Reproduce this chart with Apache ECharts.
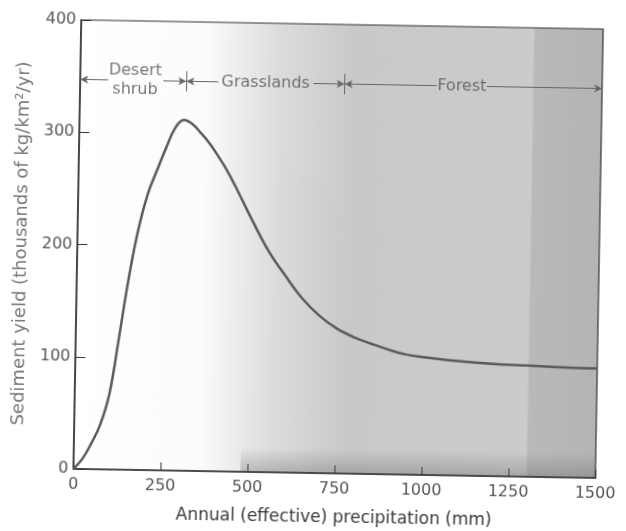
<!DOCTYPE html>
<html>
<head>
<meta charset="utf-8">
<script src="https://cdn.jsdelivr.net/npm/echarts@6/dist/echarts.min.js"></script>
<style>
  html, body { margin: 0; padding: 0; background: #fff; }
  /* the scanned figure is slightly tilted */
  #main { width: 626px; height: 531px; transform: rotate(1deg); }
</style>
</head>
<body>
<div id="main"></div>
<script>
// precipitation (mm) and sediment yield (thousands of kg/km2/yr)
const precip = [0, 25, 50, 75, 100, 125, 150, 175, 200, 225, 250, 275, 300, 325, 350, 375, 400, 425, 450, 500, 550, 600, 650, 700, 750, 800, 850, 900, 950, 1000, 1100, 1200, 1300, 1400, 1500];
const yieldK = [0, 9, 23, 40, 68, 119, 172, 215, 246, 267, 287, 305, 312.5, 309, 301, 292, 281, 269, 255, 225, 197, 175, 155, 140, 129, 121.5, 116, 111, 107, 105, 102, 100, 99, 98, 97.5];

// vegetation zones along the top of the plot
const zoneBounds = [0, 305, 760, 1500];
const zoneNames = ['Desert\nshrub', 'Grasslands', 'Forest'];
const zoneLabelX = [158, 533, 1097];
const zoneTextEdges = [[81, 239], [397, 670], [1025, 1169]];
const zoneY = 347;

const font = 'DejaVu Sans';
const grey = '#555';

let myChart = echarts.init(document.getElementById('main'));

// arrow segments: from the text out to the zone boundary
let arrows = [];
zoneNames.forEach((n, i) => {
  arrows.push([{coord: [zoneTextEdges[i][0], zoneY], symbol: 'none'}, {coord: [zoneBounds[i], zoneY], symbol: 'arrow'}]);
  arrows.push([{coord: [zoneTextEdges[i][1], zoneY], symbol: 'none'}, {coord: [zoneBounds[i + 1], zoneY], symbol: 'arrow'}]);
});
// small vertical bars at the inner boundaries
zoneBounds.slice(1, -1).forEach(b => {
  arrows.push([{coord: [b, zoneY - 9], symbol: 'none'}, {coord: [b, zoneY + 9], symbol: 'none'}]);
});

let option = {
  animation: false,
  backgroundColor: '#fff',
  grid: {
    left: 77, right: 27, top: 24, bottom: 57,
    show: true,
    borderColor: '#333', borderWidth: 1.2,
    backgroundColor: new echarts.graphic.LinearGradient(0, 0, 1, 0, [
      {offset: 0, color: '#ffffff'},
      {offset: 0.24, color: '#fbfbfb'},
      {offset: 0.38, color: '#dcdcdc'},
      {offset: 0.52, color: '#c9c9c9'},
      {offset: 0.865, color: '#cbcbcb'},
      {offset: 0.87, color: '#b9b9b9'},
      {offset: 1, color: '#b4b4b4'}
    ])
  },
  xAxis: {
    type: 'value', min: 0, max: 1500, interval: 250,
    name: 'Annual (effective) precipitation (mm)',
    nameLocation: 'middle', nameGap: 36,
    nameTextStyle: {fontFamily: font, fontSize: 17, color: '#3a3a3a'},
    axisLine: {lineStyle: {color: '#333', width: 1.5}},
    axisTick: {inside: true, length: 8, lineStyle: {color: '#333'}},
    axisLabel: {fontFamily: font, fontSize: 16, color: grey, margin: 8, formatter: v => String(v)},
    splitLine: {show: false}
  },
  yAxis: {
    type: 'value', min: 0, max: 400, interval: 100,
    name: 'Sediment yield (thousands of kg/km²/yr)',
    nameLocation: 'middle', nameGap: 44,
    nameTextStyle: {fontFamily: font, fontSize: 18, color: '#777'},
    axisLine: {show: true, lineStyle: {color: '#333', width: 1.5}},
    axisTick: {show: true, inside: true, length: 10, lineStyle: {color: '#333'}},
    axisLabel: {fontFamily: font, fontSize: 16, color: grey, margin: 5},
    splitLine: {show: false}
  },
  series: [
    {
      type: 'line',
      data: precip.map((p, i) => [p, yieldK[i]]),
      smooth: 0.4,
      showSymbol: false,
      lineStyle: {color: '#5a5a5a', width: 2.5},
      markArea: {
        silent: true,
        itemStyle: {
          color: new echarts.graphic.LinearGradient(0, 0, 0, 1, [
            {offset: 0, color: 'rgba(80,80,80,0)'},
            {offset: 1, color: 'rgba(80,80,80,0.3)'}
          ])
        },
        data: [[{coord: [480, 22]}, {coord: [1500, 0]}]]
      },
      markLine: {
        silent: true,
        symbolSize: [6, 8],
        label: {show: false},
        lineStyle: {color: '#666', width: 1, type: 'solid'},
        data: arrows
      }
    },
    {
      type: 'scatter',
      symbolSize: 0,
      silent: true,
      data: zoneNames.map((n, i) => [zoneLabelX[i], zoneY, n]),
      label: {
        show: true, position: 'inside',
        formatter: p => p.data[2],
        fontFamily: font, fontSize: 16, lineHeight: 19, color: grey
      }
    }
  ]
};

myChart.setOption(option);
</script>
</body>
</html>
